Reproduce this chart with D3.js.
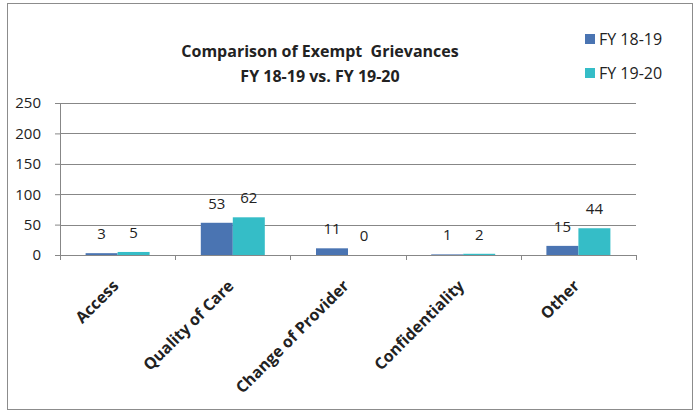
<!DOCTYPE html>
<html>
<head>
<meta charset="utf-8">
<script src="https://cdn.jsdelivr.net/npm/d3@7"></script>
<style>
  html, body { margin: 0; padding: 0; background: #fff; }
  svg { display: block; }
  text { font-family: "Open Sans", Lato, "Liberation Sans", sans-serif; }
</style>
</head>
<body>
<svg id="chart" width="695" height="415"></svg>
<script>
const categories = ["Access", "Quality of Care", "Change of Provider", "Confidentiality", "Other"];
const seriesNames = ["FY 18-19", "FY 19-20"];
const fy1819 = [3, 53, 11, 1, 15];
const fy1920 = [5, 62, 0, 2, 44];
const yTicks = [0, 50, 100, 150, 200, 250];
const colors = ["#4A74B2", "#35BDC7"];

const svg = d3.select("#chart");
const W = 695, H = 415;
const margin = { left: 60, right: 59, top: 103, bottom: 160 };
const plotW = W - margin.left - margin.right;
const plotH = H - margin.top - margin.bottom;

// outer frame
svg.append("rect")
  .attr("x", 7.5).attr("y", 3.5)
  .attr("width", 685).attr("height", 406)
  .attr("fill", "#fff").attr("stroke", "#8c8c8c").attr("stroke-width", 1);

const g = svg.append("g").attr("transform", `translate(${margin.left},${margin.top})`);

const x = d3.scaleBand().domain(categories).range([0, plotW]).paddingInner(0).paddingOuter(0);
const xs = d3.scaleBand().domain(seriesNames).range([0, x.bandwidth()]).paddingInner(0).paddingOuter(0.8);
const y = d3.scaleLinear().domain([0, 250]).range([plotH, 0]);

// horizontal gridlines
g.append("g").selectAll("line").data(yTicks.filter(d => d > 0)).join("line")
  .attr("x1", 0).attr("x2", plotW)
  .attr("y1", d => Math.round(y(d)) + 0.5).attr("y2", d => Math.round(y(d)) + 0.5)
  .attr("stroke", "#878787").attr("stroke-width", 1);

// y axis
const yAxis = g.append("g")
  .call(d3.axisLeft(y).tickValues(yTicks).tickSize(5).tickPadding(14).tickFormat(d3.format("d")));
yAxis.select(".domain").attr("stroke", "#878787");
yAxis.selectAll(".tick line").attr("stroke", "#878787");
yAxis.selectAll(".tick text").attr("fill", "#222").style("font-size", "15px")
  .style("font-family", "'Open Sans', Lato, sans-serif");

// bars
const rows = categories.map((c, i) => ({ cat: c, vals: [fy1819[i], fy1920[i]] }));
const groups = g.append("g").selectAll("g").data(rows).join("g")
  .attr("transform", d => `translate(${x(d.cat)},0)`);

groups.selectAll("rect").data(d => d.vals.map((v, j) => ({ v, s: seriesNames[j], j })))
  .join("rect")
  .attr("x", d => xs(d.s))
  .attr("width", xs.bandwidth())
  .attr("y", d => y(d.v))
  .attr("height", d => plotH - y(d.v))
  .attr("fill", d => colors[d.j]);

groups.selectAll("text").data(d => d.vals.map((v, j) => ({ v, s: seriesNames[j] })))
  .join("text")
  .attr("x", d => xs(d.s) + xs.bandwidth() / 2)
  .attr("y", d => y(d.v) - 14)
  .attr("text-anchor", "middle")
  .attr("fill", "#222")
  .style("font-size", "15px")
  .text(d => d.v);

// x axis
const xAxis = g.append("g").attr("transform", `translate(0,${plotH})`)
  .call(d3.axisBottom(x).tickSize(0).tickFormat(""));
xAxis.select(".domain").attr("stroke", "#878787");
// category boundary ticks
g.append("g").selectAll("line").data(d3.range(categories.length + 1)).join("line")
  .attr("x1", i => Math.round(i * x.step()) + 0.5).attr("x2", i => Math.round(i * x.step()) + 0.5)
  .attr("y1", plotH).attr("y2", plotH + 5)
  .attr("stroke", "#878787");

// rotated category labels
g.append("g").selectAll("text").data(categories).join("text")
  .attr("transform", d => `translate(${x(d) + x.bandwidth() / 2 - 2},${plotH + 28}) rotate(-45)`)
  .attr("text-anchor", "end")
  .attr("dy", "0.35em")
  .attr("fill", "#222")
  .style("font-size", "16px")
  .style("font-weight", "bold")
  .text(d => d);

// title
const title = svg.append("text")
  .attr("text-anchor", "middle")
  .attr("fill", "#222")
  .style("font-size", "16px")
  .style("font-weight", "bold");
title.append("tspan").attr("x", 320).attr("y", 57).text("Comparison of Exempt\u00a0 Grievances");
title.append("tspan").attr("x", 320).attr("y", 82).text("FY 18-19 vs. FY 19-20");

// legend
const legend = svg.append("g").selectAll("g").data(seriesNames).join("g")
  .attr("transform", (d, i) => `translate(585,${34 + i * 34})`);
legend.append("rect").attr("width", 10).attr("height", 10).attr("fill", (d, i) => colors[i]);
legend.append("text").attr("x", 14).attr("y", 5).attr("dy", "0.35em")
  .attr("fill", "#222").style("font-size", "16px").text(d => d);
</script>
</body>
</html>
